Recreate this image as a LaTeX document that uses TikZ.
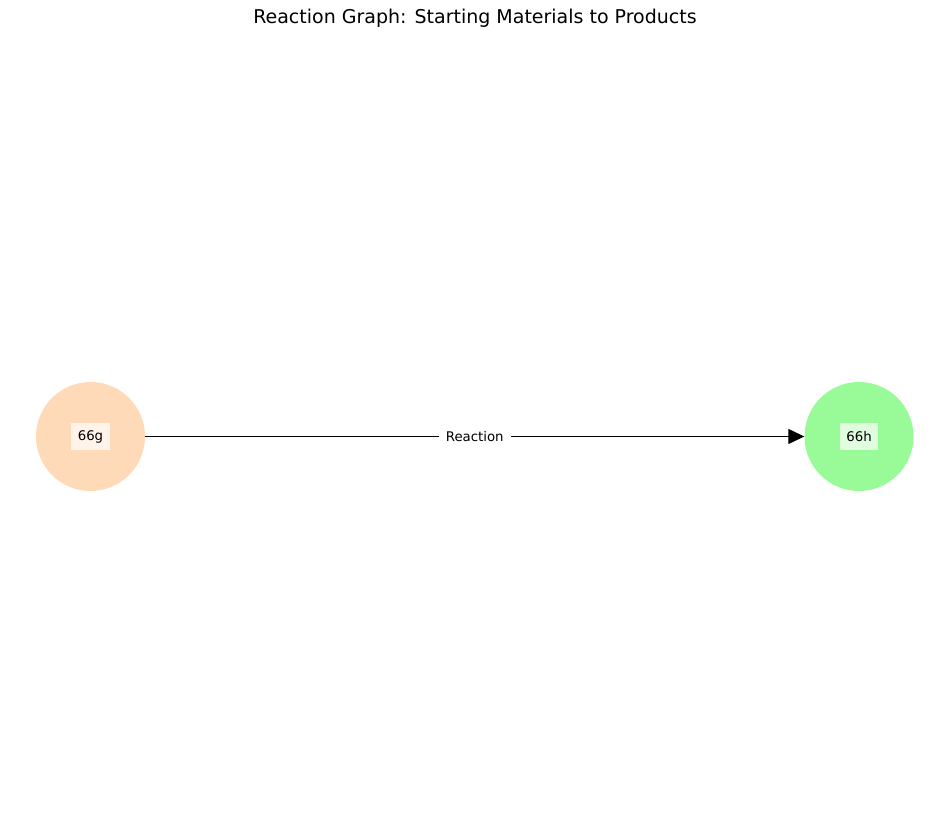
\documentclass[tikz,border=0pt]{standalone}
\usepackage{fontspec}
\setmainfont{DejaVu Sans}
\usetikzlibrary{arrows.meta}
\definecolor{peach}{HTML}{FFDAB9}
\definecolor{pgreen}{HTML}{98FB98}
\begin{document}
\begin{tikzpicture}[x=1pt,y=1pt,
  mol/.style={circle,minimum size=109pt,inner sep=0pt,draw=none},
  molabel/.style={fill=white,fill opacity=0.7,text opacity=1,inner xsep=6.4pt,minimum height=27pt,font=\fontsize{13.3}{15}\selectfont},
  edgelabel/.style={fill=white,inner xsep=7pt,inner ysep=3pt,font=\fontsize{13.3}{15}\selectfont},
  conn/.style={draw=black,line width=1.2pt,-{Triangle[length=16pt,width=15pt]}}]
\useasboundingbox (0,0) rectangle (950,832);
\node[anchor=base,font=\fontsize{19}{22}\selectfont] (title) at (475,808) {Reaction Graph: Starting Materials to Products};
\node[mol,fill=peach] (a) at (90.5,395.5) {};
\node[mol,fill=pgreen] (b) at (859,395.5) {};
\draw[conn] (a) -- node[edgelabel] (r) {Reaction} (b);
\node[molabel] (la) at (a.center) {66g};
\node[molabel] (lb) at (b.center) {66h};
\end{tikzpicture}
\end{document}
